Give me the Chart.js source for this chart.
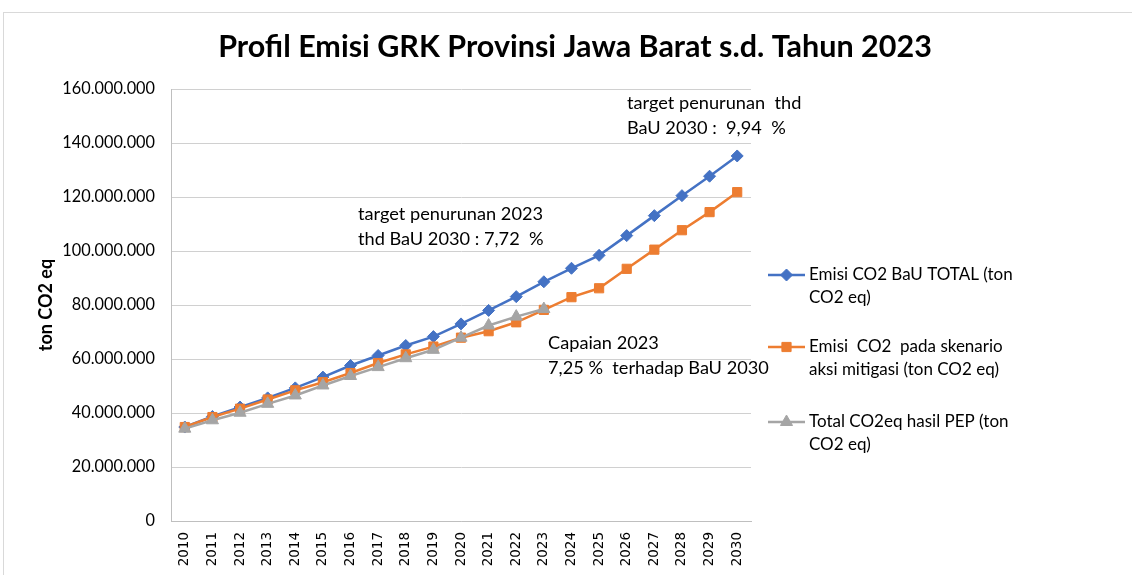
<!DOCTYPE html>
<html>
<head>
<meta charset="utf-8">
<script src="https://cdn.jsdelivr.net/npm/chart.js@4.4.1/dist/chart.umd.min.js"></script>
<style>
  html, body { margin: 0; padding: 0; background: #ffffff; }
  #wrap { position: relative; width: 1132px; height: 575px; overflow: hidden; }
  #frame { position: absolute; left: 3px; top: 12px; right: -2px; bottom: -2px; border-top: 1px solid #d9d9d9; border-left: 1px solid #d9d9d9; pointer-events: none; }
  canvas { position: absolute; left: 0; top: 0; }
</style>
</head>
<body>
<div id="wrap">
  <canvas id="c" width="1132" height="575"></canvas>
  <div id="frame"></div>
</div>
<script>
// ---------- DATA ----------
const years = ["2010","2011","2012","2013","2014","2015","2016","2017","2018","2019","2020",
               "2021","2022","2023","2024","2025","2026","2027","2028","2029","2030"];
const bauTotal = [34800000, 38700000, 42200000, 45600000, 49300000, 53300000, 57600000, 61300000,
                  65000000, 68300000, 73000000, 78000000, 83100000, 88600000, 93600000, 98400000,
                  105700000, 113100000, 120500000, 127700000, 135200000];
const mitigasi = [34800000, 38500000, 41600000, 45000000, 48400000, 51400000, 54800000, 58500000,
                  61700000, 64600000, 67900000, 70300000, 73600000, 78200000, 82900000, 86200000,
                  93400000, 100500000, 107700000, 114400000, 121800000];
const hasilPEP = [34200000, 37300000, 40100000, 43400000, 46500000, 50200000, 53700000, 57000000,
                  60300000, 63400000, 67900000, 72400000, 75700000, 78500000,
                  null, null, null, null, null, null, null];
const yTicks = [0, 20000000, 40000000, 60000000, 80000000, 100000000, 120000000, 140000000, 160000000];
const seriesNames = [
  ["Emisi CO2 BaU TOTAL (ton", "CO2 eq)"],
  ["Emisi  CO2  pada skenario", "aksi mitigasi (ton CO2 eq)"],
  ["Total CO2eq hasil PEP (ton", "CO2 eq)"]
];
const chartTitle = "Profil Emisi GRK Provinsi Jawa Barat s.d. Tahun 2023";
const yAxisTitle = "ton CO2 eq";
const notes = [
  ["target penurunan  thd", "BaU 2030 :  9,94  %"],
  ["target penurunan 2023", "thd BaU 2030 : 7,72  %"],
  ["Capaian 2023", "7,25 %  terhadap BaU 2030"]
];

// ---------- STYLE ----------
const BLUE = "#4472C4", ORANGE = "#ED7D31", GRAY = "#A5A5A5";
const TXT = "#000000";

function fmt(v) {
  return String(Math.round(v)).replace(/\B(?=(\d{3})+(?!\d))/g, ".");
}

const notePos = [ {x: 627, y: 103}, {x: 358, y: 214}, {x: 548, y: 343} ];
const noteLine = 25;

const overlay = {
  id: "overlay",
  afterDatasetsDraw(chart) {
    const ctx = chart.ctx;
    ctx.save();
    // title
    ctx.font = "bold 30.5px Lato";
    ctx.fillStyle = TXT;
    ctx.textAlign = "center";
    ctx.textBaseline = "middle";
    ctx.fillText(chartTitle, 575, 47);
    // annotations
    ctx.font = "18.2px Lato";
    ctx.textAlign = "left";
    notes.forEach((lines, i) => {
      lines.forEach((t, j) => ctx.fillText(t, notePos[i].x, notePos[i].y + j * noteLine));
    });
    // legend
    const legY = [275, 347, 422];
    const lx0 = 768, lx1 = 805, tx = 809;
    chart.data.datasets.forEach((ds, i) => {
      const y = legY[i];
      ctx.strokeStyle = ds.borderColor;
      ctx.lineWidth = 2.5;
      ctx.beginPath(); ctx.moveTo(lx0, y); ctx.lineTo(lx1, y); ctx.stroke();
      ctx.fillStyle = ds.borderColor;
      ctx.lineWidth = 1;
      Chart.helpers.drawPoint(ctx, { pointStyle: ds.pointStyle, radius: ds.pointRadius, rotation: 0, borderWidth: 1 }, (lx0 + lx1) / 2, y);
      ctx.fillStyle = TXT;
      ctx.font = "17px Lato";
      seriesNames[i].forEach((t, j) => ctx.fillText(t, tx, y + j * 23));
    });
    ctx.restore();
  }
};

new Chart(document.getElementById("c"), {
  type: "line",
  data: {
    labels: years,
    datasets: [
      { label: seriesNames[0].join(" "), data: bauTotal, borderColor: BLUE, backgroundColor: BLUE,
        pointStyle: "rectRot", pointRadius: 6, pointBorderWidth: 1, borderWidth: 2.5, order: 3 },
      { label: seriesNames[1].join(" "), data: mitigasi, borderColor: ORANGE, backgroundColor: ORANGE,
        pointStyle: "rect", pointRadius: 6.5, pointBorderWidth: 1, borderWidth: 2.5, order: 2 },
      { label: seriesNames[2].join(" "), data: hasilPEP, borderColor: GRAY, backgroundColor: GRAY,
        pointStyle: "triangle", pointRadius: 7, pointBorderWidth: 1, borderWidth: 2.5, order: 1, spanGaps: false }
    ]
  },
  options: {
    responsive: false,
    animation: false,
    events: [],
    layout: { padding: { left: 0, top: 89, right: 381, bottom: 0 } },
    plugins: {
      legend: { display: false },
      tooltip: { enabled: false },
      title: { display: false }
    },
    scales: {
      x: {
        offset: true,
        grid: { display: false, drawTicks: false },
        border: { display: true, color: "#bfbfbf", width: 1 },
        ticks: { color: TXT, font: { family: "DejaVu Sans", size: 13.5 }, minRotation: 90, maxRotation: 90, padding: 11, autoSkip: false },
        afterFit(s) { s.height = 54; }
      },
      y: {
        min: 0, max: 160000000,
        afterBuildTicks(s) { s.ticks = yTicks.map(v => ({ value: v })); },
        grid: { color: "#d0d0d0", lineWidth: 1, drawTicks: false },
        border: { display: true, color: "#bfbfbf", width: 1 },
        ticks: { color: TXT, font: { family: "Lato", size: 16.3 }, padding: 16, callback: v => fmt(v) },
        title: { display: true, text: yAxisTitle, color: TXT, font: { family: "Lato", size: 18, weight: "bold" }, padding: { top: 35 } },
        afterFit(s) { s.width = 171; }
      }
    }
  },
  plugins: [overlay]
});
</script>
</body>
</html>
